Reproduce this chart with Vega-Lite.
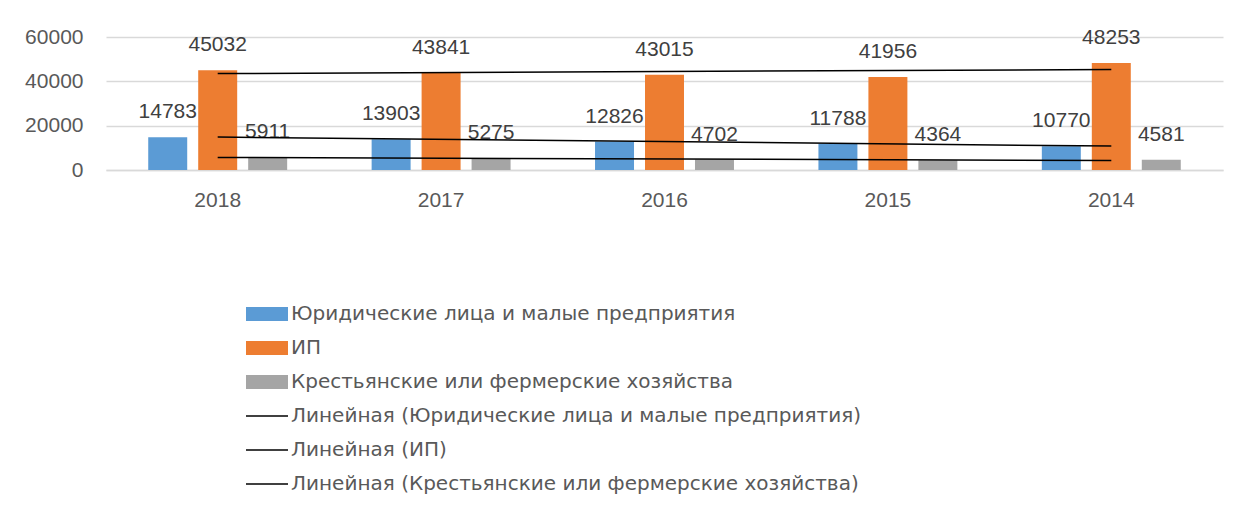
{
  "$schema": "https://vega.github.io/schema/vega-lite/v6.json",
  "width": 1117,
  "height": 133,
  "padding": {"left": 106, "top": 37, "right": 25, "bottom": 338},
  "autosize": {"type": "none"},
  "background": "white",
  "config": {
    "view": {"stroke": null},
    "font": "Liberation Sans",
    "axis": {"labelFont": "Liberation Sans", "labelFontSize": 21, "labelColor": "#595959"},
    "legend": {"labelFont": "DejaVu Sans", "labelFontSize": 20, "labelColor": "#595959", "labelLimit": 0}
  },
  "datasets": {
    "bars": [
      {"year": "2018", "series": "Юридические лица и малые предприятия", "value": 14783},
      {"year": "2018", "series": "ИП", "value": 45032},
      {"year": "2018", "series": "Крестьянские или фермерские хозяйства", "value": 5911},
      {"year": "2017", "series": "Юридические лица и малые предприятия", "value": 13903},
      {"year": "2017", "series": "ИП", "value": 43841},
      {"year": "2017", "series": "Крестьянские или фермерские хозяйства", "value": 5275},
      {"year": "2016", "series": "Юридические лица и малые предприятия", "value": 12826},
      {"year": "2016", "series": "ИП", "value": 43015},
      {"year": "2016", "series": "Крестьянские или фермерские хозяйства", "value": 4702},
      {"year": "2015", "series": "Юридические лица и малые предприятия", "value": 11788},
      {"year": "2015", "series": "ИП", "value": 41956},
      {"year": "2015", "series": "Крестьянские или фермерские хозяйства", "value": 4364},
      {"year": "2014", "series": "Юридические лица и малые предприятия", "value": 10770},
      {"year": "2014", "series": "ИП", "value": 48253},
      {"year": "2014", "series": "Крестьянские или фермерские хозяйства", "value": 4581}
    ],
    "trend": [
      {"year": "2018", "trend": "Линейная (Юридические лица и малые предприятия)", "value": 14842},
      {"year": "2014", "trend": "Линейная (Юридические лица и малые предприятия)", "value": 10786},
      {"year": "2018", "trend": "Линейная (ИП)", "value": 43508},
      {"year": "2014", "trend": "Линейная (ИП)", "value": 45331},
      {"year": "2018", "trend": "Линейная (Крестьянские или фермерские хозяйства)", "value": 5681},
      {"year": "2014", "trend": "Линейная (Крестьянские или фермерские хозяйства)", "value": 4252}
    ]
  },
  "layer": [
    {
      "data": {"name": "bars"},
      "mark": {"type": "bar"},
      "encoding": {
        "x": {
          "field": "year", "type": "nominal",
          "sort": ["2018", "2017", "2016", "2015", "2014"],
          "scale": {"paddingInner": 0, "paddingOuter": 0},
          "axis": {"title": null, "labelAngle": 0, "ticks": false, "tickSize": 0, "labelPadding": 19, "domain": true, "domainColor": "#d9d9d9", "domainWidth": 1.3}
        },
        "xOffset": {
          "field": "series", "type": "nominal",
          "sort": ["Юридические лица и малые предприятия", "ИП", "Крестьянские или фермерские хозяйства"],
          "scale": {"paddingInner": 0.22, "paddingOuter": 0.845}
        },
        "y": {
          "field": "value", "type": "quantitative",
          "scale": {"domain": [0, 60000], "nice": false},
          "axis": {"title": null, "values": [0, 20000, 40000, 60000], "format": "d", "domain": false, "ticks": false, "tickSize": 0, "labelPadding": 23, "gridColor": "#d9d9d9", "gridWidth": 1.3}
        },
        "color": {
          "field": "series", "type": "nominal",
          "sort": ["Юридические лица и малые предприятия", "ИП", "Крестьянские или фермерские хозяйства"],
          "scale": {"range": ["#5B9BD5", "#ED7D31", "#A5A5A5"]},
          "legend": {
            "title": null, "orient": "none", "legendX": 151, "legendY": 267,
            "symbolType": "M-3,-1H3V1H-3Z", "symbolSize": 196, "labelOffset": 14,
            "rowPadding": 14, "padding": 0, "symbolOpacity": 1, "labelLimit": 0
          }
        }
      }
    },
    {
      "data": {"name": "bars"},
      "mark": {"type": "text", "baseline": "alphabetic", "dy": -19, "fontSize": 21, "color": "#404040", "font": "Liberation Sans"},
      "encoding": {
        "x": {"field": "year", "type": "nominal", "sort": ["2018", "2017", "2016", "2015", "2014"]},
        "xOffset": {"field": "series", "type": "nominal", "sort": ["Юридические лица и малые предприятия", "ИП", "Крестьянские или фермерские хозяйства"]},
        "y": {"field": "value", "type": "quantitative"},
        "text": {"field": "value", "type": "quantitative", "format": "d"}
      }
    },
    {
      "data": {"name": "trend"},
      "mark": {"type": "line", "strokeWidth": 1.5},
      "encoding": {
        "x": {"field": "year", "type": "nominal", "sort": ["2018", "2017", "2016", "2015", "2014"]},
        "y": {"field": "value", "type": "quantitative"},
        "stroke": {
          "field": "trend", "type": "nominal",
          "sort": ["Линейная (Юридические лица и малые предприятия)", "Линейная (ИП)", "Линейная (Крестьянские или фермерские хозяйства)"],
          "scale": {"range": ["#000000", "#000000", "#000000"]},
          "legend": {
            "title": null, "orient": "none", "legendX": 151, "legendY": 369,
            "symbolType": "M-3,0H3", "symbolSize": 196, "labelOffset": 14,
            "rowPadding": 14, "padding": 0, "symbolStrokeWidth": 1.5,
            "symbolFillColor": "transparent", "symbolStrokeColor": "#000000", "labelLimit": 0
          }
        }
      }
    }
  ]
}
